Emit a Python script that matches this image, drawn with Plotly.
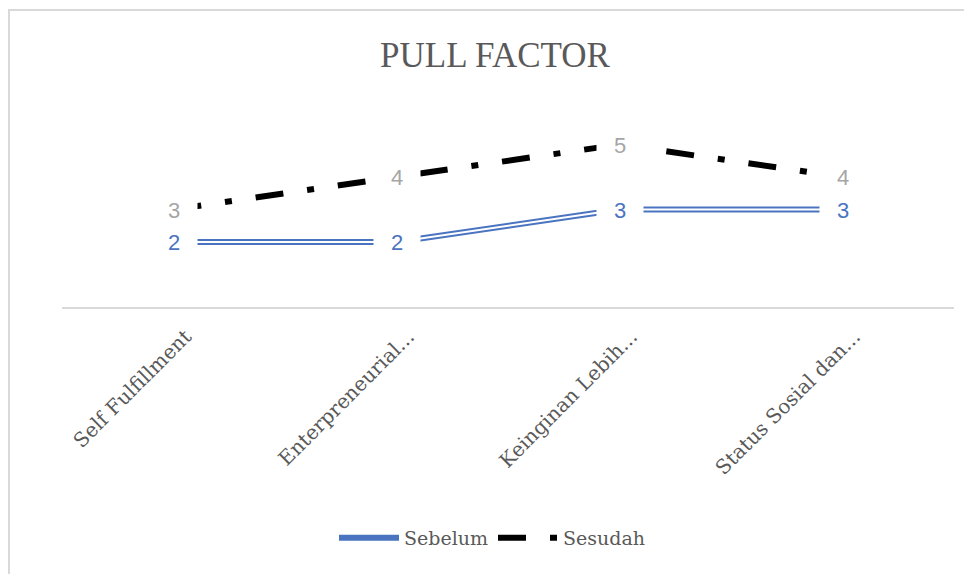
import plotly.graph_objects as go

categories = ["Self Fulfillment", "Enterpreneurial...", "Keinginan Lebih...", "Status Sosial dan..."]
sebelum = [2, 2, 3, 3]
sesudah = [3, 4, 5, 4]

BLUE = "#4a74c0"
FONT = "DejaVu Serif"

fig = go.Figure()
# Sebelum: double line (blue with white core)
fig.add_trace(go.Scatter(
    x=categories, y=sebelum, name="Sebelum", mode="lines",
    line=dict(color=BLUE, width=6),
))
fig.add_trace(go.Scatter(
    x=categories, y=sebelum, name="Sebelum", mode="lines",
    line=dict(color="white", width=2), showlegend=False, hoverinfo="skip",
))
# Sesudah: thick black dash-dot
fig.add_trace(go.Scatter(
    x=categories, y=sesudah, name="Sesudah", mode="lines",
    line=dict(color="black", width=6, dash="28px,24px,7px,24px"),
))

annotations = []
for c, v in zip(categories, sebelum):
    annotations.append(dict(x=c, y=v, xref="x", yref="y", text=str(v), showarrow=False,
                            font=dict(family="Liberation Sans", size=22, color=BLUE),
                            bgcolor="white", width=44, height=26))
for c, v in zip(categories, sesudah):
    annotations.append(dict(x=c, y=v, xref="x", yref="y", text=str(v), showarrow=False,
                            font=dict(family="Liberation Sans", size=22, color="#a6a6a6"),
                            bgcolor="white", width=44, height=26))

OFF = 8  # page body margin
W, H = 972 - OFF, 574 - OFF
L, T = 62 - OFF, 112 - OFF
R = 972 - 954
B = H - (307 - OFF)
pw, ph = W - L - R, H - T - B

def px_x(x):
    return (x - OFF - L) / pw

def px_y(y):
    return (H - B - (y - OFF)) / ph

fig.update_layout(
    width=W, height=H,
    margin=dict(l=L, r=R, t=T, b=B),
    paper_bgcolor="white", plot_bgcolor="white",
    title=dict(text="PULL FACTOR", x=px_x(495), xref="paper", xanchor="center",
               y=1 - (55 - OFF) / H, yanchor="middle",
               font=dict(family="Liberation Serif", size=35, color="#595959")),
    xaxis=dict(range=[-0.5, 3.5], showline=True, linecolor="#d9d9d9", linewidth=2,
               showgrid=False, ticks="", tickangle=-45,
               ticklabelstandoff=8, ticklabelshift=12,
               tickfont=dict(family=FONT, size=20, color="#595959")),
    yaxis=dict(range=[0, 6], visible=False, showgrid=False, zeroline=False),
    legend=dict(orientation="h", x=px_x(492), xanchor="center", y=px_y(538), yanchor="middle",
                font=dict(family=FONT, size=19, color="#595959"), itemwidth=60),
    annotations=annotations,
    shapes=[dict(type="rect", xref="paper", yref="paper",
                 x0=px_x(9), x1=px_x(990), y0=px_y(590), y1=px_y(10),
                 line=dict(color="#d9d9d9", width=2), fillcolor="rgba(0,0,0,0)", layer="below")],
    showlegend=True,
)

fig.write_html("out.html")
